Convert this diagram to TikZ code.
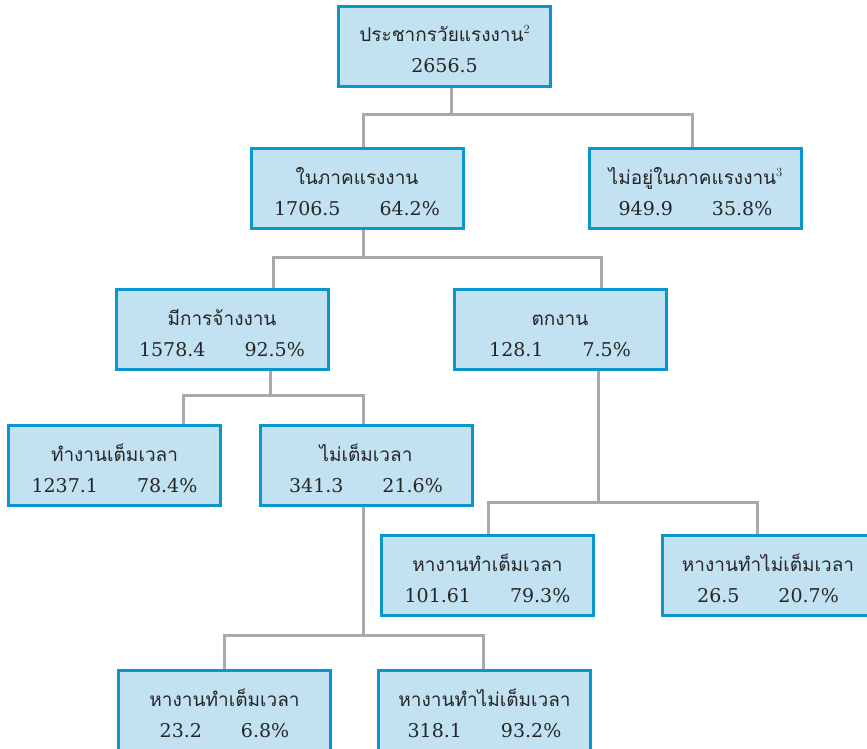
\documentclass[tikz,border=0pt]{standalone}
\usepackage{fontspec}
\newfontfamily\thaifont[Script=Thai]{Loma}
\newfontfamily\numfont{DejaVu Serif}
\definecolor{boxblue}{RGB}{11,150,206}
\definecolor{boxfill}{RGB}{194,226,242}
\definecolor{conngray}{RGB}{168,169,173}
\newcommand\mybox[6]{%
  \node[box] (#1) at (#2,#3) {};
  \node[th, anchor=base] (#1t) at ([yshift=4.5pt]#1.center) {#4};
  \node[num, anchor=base] (#1n) at ([yshift=-26.5pt]#1.center) {#5\hspace{39pt}#6};
}
\newcommand\supnum[1]{\raisebox{8pt}{\rmfamily\fontsize{12.5}{12.5}\selectfont #1}}
\begin{document}
\begin{tikzpicture}[x=1pt,y=-1pt,
  box/.style={draw=boxblue, fill=boxfill, line width=3pt, minimum width=212pt, minimum height=80pt, inner sep=0pt},
  conn/.style={draw=conngray, line width=3pt, line join=miter},
  th/.style={font=\thaifont\fontsize{19}{23}\selectfont, inner sep=0pt, text=black!85},
  num/.style={font=\numfont\fontsize{19}{23}\selectfont, inner sep=0pt, text=black!85}]
\useasboundingbox (0,0) rectangle (867,749);
\clip (0,0) rectangle (867,749);
\fill[white] (0,0) rectangle (867,749);

% boxes
\node[box] (top) at (444.5,46.5) {};
\node[th, anchor=base] (topt) at ([yshift=4.5pt]top.center) {ประชากรวัยแรงงาน\supnum{2}};
\node[num, anchor=base] (topn) at ([yshift=-26.5pt]top.center) {2656.5};

\mybox{inlab}{357}{188.5}{ในภาคแรงงาน}{1706.5}{64.2\%}
\mybox{notin}{695.5}{188.5}{ไม่อยู่ในภาคแรงงาน\supnum{3}}{949.9}{35.8\%}
\mybox{emp}{222}{329.5}{มีการจ้างงาน}{1578.4}{92.5\%}
\mybox{unemp}{560}{329.5}{ตกงาน}{128.1}{7.5\%}
\mybox{full}{114.5}{465.5}{ทำงานเต็มเวลา}{1237.1}{78.4\%}
\mybox{part}{366}{465.5}{ไม่เต็มเวลา}{341.3}{21.6\%}
\mybox{sfull}{487.5}{575.5}{หางานทำเต็มเวลา}{101.61}{79.3\%}
\mybox{spart}{768}{575.5}{หางานทำไม่เต็มเวลา}{26.5}{20.7\%}
\mybox{bfull}{224.5}{710.5}{หางานทำเต็มเวลา}{23.2}{6.8\%}
\mybox{bpart}{484.5}{710.5}{หางานทำไม่เต็มเวลา}{318.1}{93.2\%}

% connectors
\draw[conn] ([xshift=6.5pt]top.south) -- ++(0,27);
\draw[conn] ([xshift=6pt]inlab.north) -- ++(0,-32) -| ([xshift=-3.5pt]notin.north);

\draw[conn] ([xshift=6pt]inlab.south) -- ++(0,28);
\draw[conn] ([xshift=51pt]emp.north) -- ++(0,-31) -| ([xshift=41pt]unemp.north);

\draw[conn] ([xshift=48pt]emp.south) -- ++(0,26);
\draw[conn] ([xshift=68.5pt]full.north) -- ++(0,-29) -| ([xshift=-3pt]part.north);

\draw[conn] ([xshift=38pt]unemp.south) -- ++(0,133);
\draw[conn] ([xshift=0.5pt]sfull.north) -- ++(0,-32) -| ([xshift=-11pt]spart.north);

\draw[conn] ([xshift=-3pt]part.south) -- ++(0,128);
\draw[conn] ([xshift=-0.5pt]bfull.north) -- ++(0,-34) -| ([xshift=-1.5pt]bpart.north);
\end{tikzpicture}
\end{document}
